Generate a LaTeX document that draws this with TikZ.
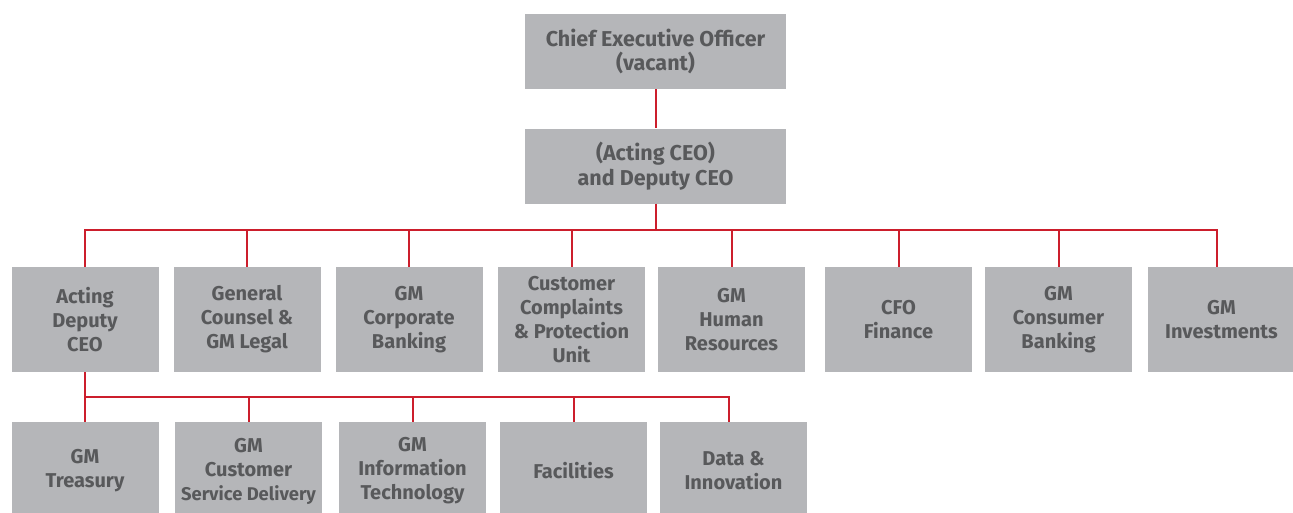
\documentclass[tikz,border=0pt]{standalone}
\usepackage{fontspec}
\setmainfont{Fira Sans}
\definecolor{boxgrey}{RGB}{181,182,185}
\definecolor{txtgrey}{RGB}{88,89,91}
\definecolor{linkred}{RGB}{204,30,44}
\begin{document}
\begin{tikzpicture}[x=1pt,y=-1pt,
  unit/.style={fill=boxgrey, text=txtgrey, align=center, inner sep=0pt,
    font=\fontsize{20}{24}\selectfont\bfseries},
  top/.style={unit, minimum width=261pt, minimum height=75pt,
    font=\fontsize{21.5}{24.5}\selectfont\bfseries},
  dept/.style={unit, minimum width=147pt, minimum height=105pt},
  sub/.style={unit, minimum width=147pt, minimum height=98pt},
  link/.style={draw=linkred, line width=2pt}]
\useasboundingbox (0,0) rectangle (1293,512);
\clip (0,0) rectangle (1293,512);

% executive level
\node[top] (ceo) at (655.5,51.5) {Chief Executive Officer\\(vacant)};
\node[top] (dep) at (655.5,166) {(Acting CEO)\\and Deputy CEO};

% reports to the deputy CEO
\node[dept] (b1) at (85,319.5)  {Acting\\Deputy\\CEO};
\node[dept] (b2) at (247,319.5) {General\\Counsel \&\\GM Legal};
\node[dept] (b3) at (409,319.5) {GM\\Corporate\\Banking};
\node[dept] (b4) at (571.5,319.5) {Customer\\Complaints\\\& Protection\\Unit};
\node[dept] (b5) at (731.5,319.5) {GM\\Human\\Resources};
\node[dept] (b6) at (898.5,319.5) {CFO\\Finance};
\node[dept] (b7) at (1058.5,319.5) {GM\\Consumer\\Banking};
\node[dept] (b8) at (1221.5,319.5) {GM\\Investments};

% reports to the acting deputy CEO
\node[sub] (c1) at (85,471)  {GM\\Treasury};
\node[sub] (c2) at (248.5,471) {GM\\Customer\\{\fontsize{18.4}{24}\selectfont Service Delivery}};
\node[sub] (c3) at (412.5,471) {GM\\Information\\Technology};
\node[sub] (c4) at (573.5,471) {Facilities};
\node[sub] (c5) at (733.5,471) {Data \&\\Innovation};

% bus lines
\coordinate (bus1) at (655.5,229.5);
\coordinate (bus2) at (85,397);
\coordinate (t8) at (1217,0);
\coordinate (t5) at (729,0);

\draw[link] (ceo.south) -- (dep.north);
\draw[link] (dep.south) -- (bus1);
\draw[link] (b1.north) |- (bus1 -| t8) -- (b8.north -| t8);
\foreach \n in {b2,b3,b4,b5,b6,b7}
  \draw[link] (bus1 -| \n.north) -- (\n.north);

\draw[link] (b1.south) -- (c1.north);
\draw[link] (bus2) -- (bus2 -| t5) -- (c5.north -| t5);
\foreach \n in {c2,c3,c4}
  \draw[link] (bus2 -| \n.north) -- (\n.north);
\end{tikzpicture}
\end{document}
